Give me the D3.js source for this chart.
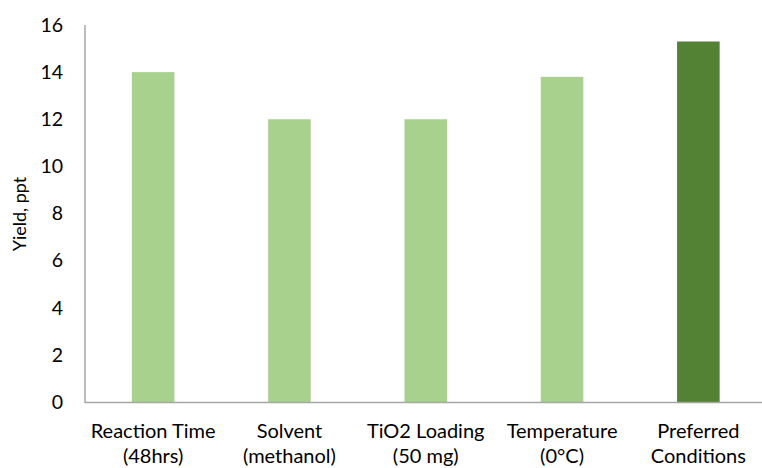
<!DOCTYPE html>
<html><head><meta charset="utf-8">
<script src="https://cdn.jsdelivr.net/npm/d3@7"></script>
<style>body{margin:0;background:#fff}svg{display:block}</style>
</head><body>
<script>
const categories = [["Reaction Time","(48hrs)"],["Solvent","(methanol)"],["TiO2 Loading","(50 mg)"],["Temperature","(0°C)"],["Preferred","Conditions"]];
const values = [14.0, 12.0, 12.0, 13.8, 15.3];
const barColors = ["#a9d18e","#a9d18e","#a9d18e","#a9d18e","#548235"];
const yTicks = [0,2,4,6,8,10,12,14,16];
const yLabel = "Yield, ppt";

const W = 762, H = 468;
const m = {left:85, top:25, bottom:402, right:766.5};
const svg = d3.select("body").append("svg").attr("width",W).attr("height",H);
const font = "Lato, 'Open Sans', sans-serif";

const x = d3.scaleBand().domain(d3.range(categories.length)).range([m.left, m.right]).paddingInner(0.6875).paddingOuter(0.34375);
const y = d3.scaleLinear().domain([0,16]).range([m.bottom, m.top]);

svg.selectAll("rect.bar").data(values).join("rect").attr("class","bar")
  .attr("x",(d,i)=>x(i)).attr("width",x.bandwidth())
  .attr("y",d=>y(d)).attr("height",d=>y(0)-y(d))
  .attr("fill",(d,i)=>barColors[i]);

svg.append("line").attr("x1",m.left).attr("x2",m.left).attr("y1",m.top).attr("y2",m.bottom+1)
  .attr("stroke","#a6a6a6").attr("stroke-width",1.5);
svg.append("line").attr("x1",m.left).attr("x2",W).attr("y1",m.bottom+0.5).attr("y2",m.bottom+0.5)
  .attr("stroke","#a6a6a6").attr("stroke-width",1.5);

const yAxis = d3.axisLeft(y).tickValues(yTicks).tickSize(0).tickPadding(22);
const gy = svg.append("g").attr("transform",`translate(${m.left},0)`).call(yAxis);
gy.select(".domain").remove();
gy.selectAll("text").attr("font-family",font).attr("font-size","19.5px").attr("fill","#000");

svg.selectAll("g.cat").data(categories).join("g").attr("class","cat")
  .each(function(d,i){
    const g = d3.select(this);
    d.forEach((line,j)=>{
      g.append("text").attr("x",x(i)+x.bandwidth()/2).attr("y",438+j*25)
        .attr("text-anchor","middle").attr("font-family",font).attr("font-size","20px").attr("fill","#000").text(line);
    });
  });

svg.append("text").attr("transform","translate(26,214) rotate(-90)").attr("text-anchor","middle")
  .attr("font-family",font).attr("font-size","18px").attr("fill","#000").text(yLabel);
</script>
</body></html>
